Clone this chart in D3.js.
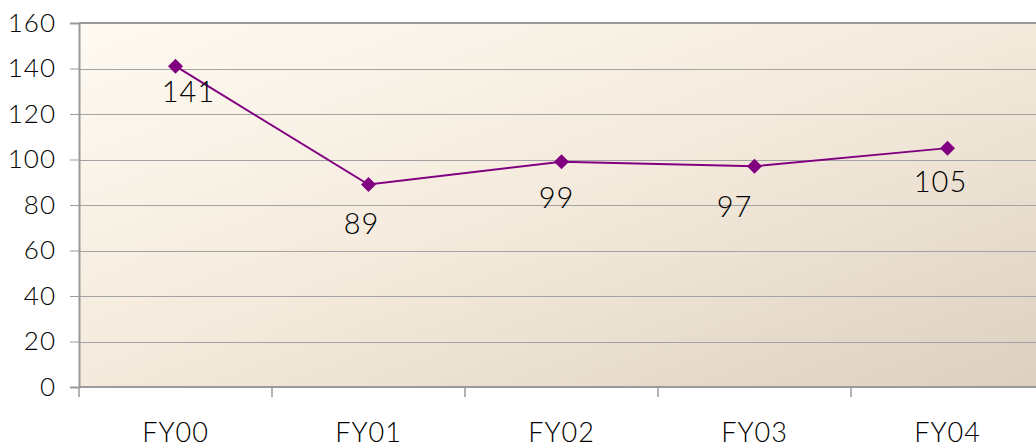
<!DOCTYPE html>
<html>
<head>
<meta charset="utf-8">
<script src="https://cdn.jsdelivr.net/npm/d3@7"></script>
<style>
  html, body { margin: 0; padding: 0; background: #fff; }
  svg { display: block; }
  text { font-family: Lato, "Open Sans", sans-serif; font-weight: 300; fill: #000; letter-spacing: 1px; }
</style>
</head>
<body>
<svg id="chart" width="1036" height="448"></svg>
<script>
// Fiscal years and their values
const categories = ["FY00", "FY01", "FY02", "FY03", "FY04"];
const values = [141, 89, 99, 97, 105];
const yTicks = [0, 20, 40, 60, 80, 100, 120, 140, 160];

// Hand placement of each value label relative to its point (dx, dy)
const labelNudge = [[13, 36], [-7, 49], [-5, 46], [-20, 51], [-7, 44]];

const W = 1036, H = 448;
const margin = { left: 79, top: 23, bottom: 61 };
const plotW = 193 * categories.length;
const plotH = H - margin.top - margin.bottom;

const svg = d3.select("#chart");

const defs = svg.append("defs");
const grad = defs.append("linearGradient")
  .attr("id", "bg").attr("x1", "0%").attr("y1", "0%").attr("x2", "100%").attr("y2", "100%");
grad.append("stop").attr("offset", "0%").attr("stop-color", "#fefaf2");
grad.append("stop").attr("offset", "50%").attr("stop-color", "#f4eadc");
grad.append("stop").attr("offset", "100%").attr("stop-color", "#dcd0bf");

const x = d3.scaleBand().domain(categories).range([0, plotW]);
const y = d3.scaleLinear().domain([0, 160]).range([plotH, 0]);

const g = svg.append("g").attr("transform", `translate(${margin.left},${margin.top})`);

// Plot background
g.append("rect").attr("x", 0).attr("y", 0).attr("width", plotW).attr("height", plotH)
  .attr("fill", "url(#bg)");

// Horizontal gridlines
g.append("g").selectAll("line").data(yTicks.filter(d => d > 0 && d < 160)).join("line")
  .attr("x1", 0).attr("x2", plotW)
  .attr("y1", d => Math.round(y(d)) + 0.5).attr("y2", d => Math.round(y(d)) + 0.5)
  .attr("stroke", "#a3a3a3").attr("stroke-width", 1);

// Frame top
g.append("line").attr("x1", 0).attr("x2", plotW).attr("y1", 0).attr("y2", 0)
  .attr("stroke", "#9a9a9a").attr("stroke-width", 2);

// Y axis
const yAxis = d3.axisLeft(y).tickValues(yTicks).tickSize(9).tickPadding(14).tickFormat(d3.format("d"));
const ya = g.append("g").call(yAxis);
ya.select(".domain").attr("stroke", "#9a9a9a").attr("stroke-width", 2);
ya.selectAll(".tick line").attr("stroke", "#9a9a9a");
ya.selectAll(".tick text").style("font-size", "26px").style("font-family", null).attr("fill", "#000");

// X axis with boundary ticks between categories
const xa = g.append("g").attr("transform", `translate(0,${plotH})`);
xa.append("line").attr("x1", 0).attr("x2", plotW).attr("stroke", "#9a9a9a").attr("stroke-width", 2);
xa.selectAll("line.bt").data(d3.range(categories.length + 1)).join("line")
  .attr("class", "bt")
  .attr("x1", i => i * x.step()).attr("x2", i => i * x.step())
  .attr("y1", 0).attr("y2", 10).attr("stroke", "#9a9a9a").attr("stroke-width", 1.5);
xa.selectAll("text").data(categories).join("text")
  .attr("x", d => x(d) + x.bandwidth() / 2).attr("y", 55)
  .attr("text-anchor", "middle").style("font-size", "27px").text(d => d);

// Series line
const pts = values.map((v, i) => [x(categories[i]) + x.bandwidth() / 2, y(v)]);
g.append("path").datum(pts)
  .attr("d", d3.line())
  .attr("fill", "none").attr("stroke", "#800080").attr("stroke-width", 2);

// Diamond markers
g.selectAll("path.mk").data(pts).join("path").attr("class", "mk")
  .attr("d", d => `M${d[0]},${d[1] - 7.5}L${d[0] + 7.5},${d[1]}L${d[0]},${d[1] + 7.5}L${d[0] - 7.5},${d[1]}Z`)
  .attr("fill", "#800080");

// Value labels
g.selectAll("text.val").data(values).join("text").attr("class", "val")
  .attr("x", (v, i) => pts[i][0] + labelNudge[i][0])
  .attr("y", (v, i) => pts[i][1] + labelNudge[i][1])
  .attr("text-anchor", "middle").style("font-size", "29px").text(v => v);
</script>
</body>
</html>
